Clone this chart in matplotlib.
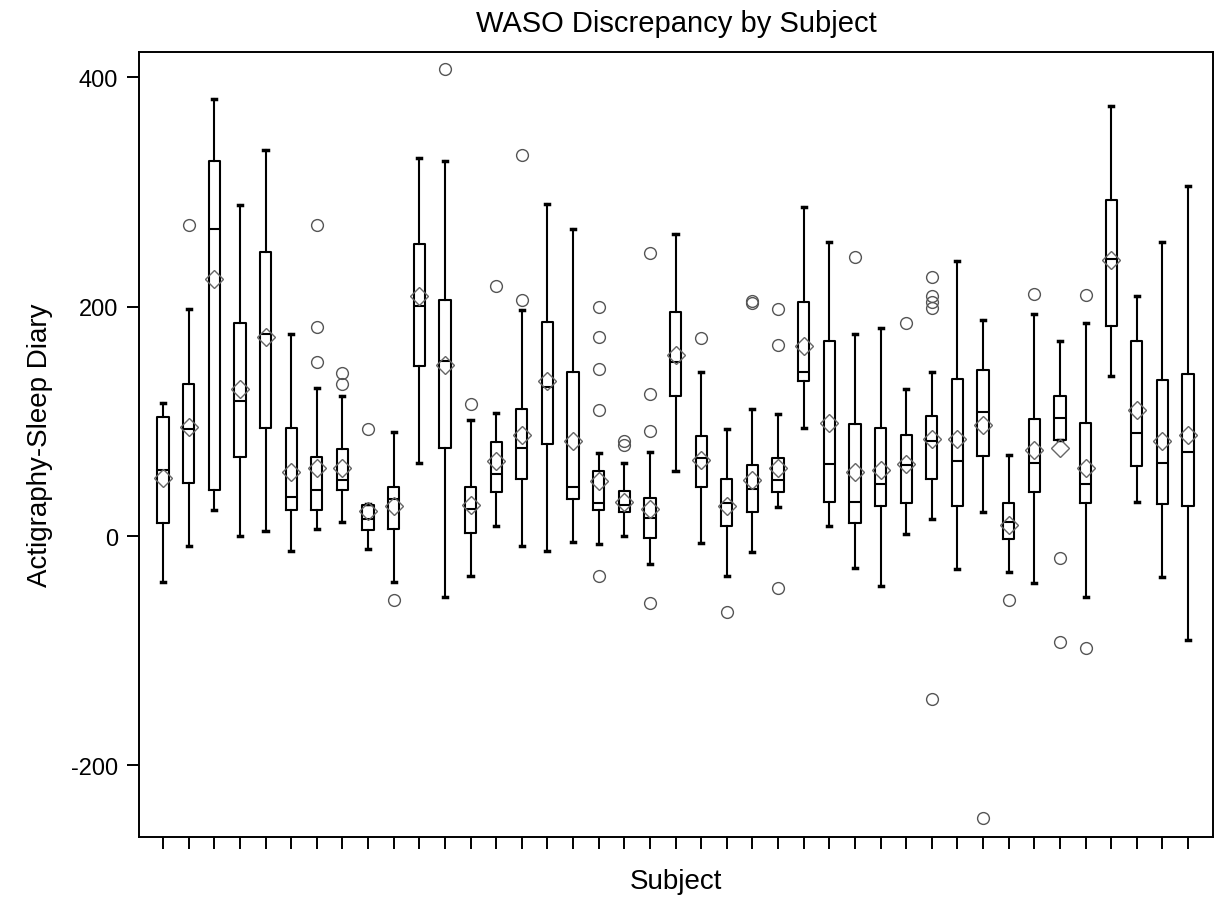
import matplotlib
matplotlib.use("Agg")
import matplotlib.pyplot as plt

plt.rcParams['font.family'] = ['Liberation Sans', 'DejaVu Sans']
plt.rcParams['axes.unicode_minus'] = False

# Box statistics per subject
whislo = [-40, -9, 23, 0, 4, -13, 6, 12, -11, -40, 64, -53, -35, 9, -9, -13, -5, -7, 0, -24,
          57, -6, -35, -14, 25, 94, 9, -28, -44, 2, 15, -29, 21, -31, -41, 84, -53, 140, 30, -36, -91]
q1 = [11, 46, 40, 69, 94, 23, 23, 40, 5, 6, 148, 77, 3, 38, 50, 80, 32, 23, 21, -2,
      122, 43, 9, 21, 38, 135, 30, 11, 26, 29, 50, 26, 70, -3, 38, 84, 29, 183, 61, 28, 26]
med = [58, 93, 268, 118, 176, 34, 40, 49, 15, 32, 201, 153, 24, 54, 77, 130, 43, 29, 27, 16,
       152, 68, 29, 41, 49, 143, 63, 30, 45, 62, 83, 65, 108, 12, 64, 103, 45, 242, 90, 64, 73]
q3 = [104, 133, 327, 186, 248, 94, 69, 76, 27, 43, 255, 206, 43, 82, 111, 187, 143, 57, 39, 33,
      195, 87, 50, 62, 68, 204, 170, 98, 94, 88, 105, 137, 145, 29, 102, 122, 99, 293, 170, 136, 141]
whishi = [116, 198, 381, 289, 337, 176, 129, 122, 28, 91, 330, 327, 101, 107, 197, 290, 268, 72, 64, 73,
          263, 143, 93, 111, 106, 287, 256, 176, 181, 128, 143, 240, 188, 71, 194, 170, 186, 375, 209, 256, 305]
means = [51, 95, 224, 128, 174, 56, 59, 59, 22, 26, 209, 149, 27, 65, 88, 135, 83, 48, 30, 24,
         158, 66, 26, 49, 59, 166, 99, 56, 58, 63, 85, 85, 97, 10, 75, 77, 59, 241, 110, 83, 88]
outliers = [
    [], [271], [], [], [], [], [152, 182, 271], [133, 142], [93], [-56],
    [], [407], [115], [218], [206, 332], [], [], [-35, 110, 146, 174, 200], [79, 83], [-58, 92, 124, 247],
    [], [173], [-66], [203, 205], [-45, 167, 198], [], [], [243], [], [186],
    [-142, 199, 204, 209, 226], [], [-246], [-56], [211], [-92, -19], [-98, 210], [], [], [], [],
]

stats = []
for i in range(len(med)):
    stats.append(dict(whislo=whislo[i], q1=q1[i], med=med[i], q3=q3[i], whishi=whishi[i],
                      mean=means[i], fliers=outliers[i], label=""))

fig = plt.figure(figsize=(12.19, 9.04), dpi=100)
ax = fig.add_axes([0.1143, 0.073, 0.8805, 0.8687])

line = dict(color="black", linewidth=1.5)
ax.bxp(stats, positions=range(len(stats)), widths=0.44, capwidths=0.16, showmeans=True,
       boxprops=line, medianprops=line, whiskerprops=line,
       capprops=dict(color="black", linewidth=2.5),
       flierprops=dict(marker="o", markerfacecolor="none", markeredgecolor="#555555",
                       markersize=8.5, markeredgewidth=1),
       meanprops=dict(marker="D", markerfacecolor="none", markeredgecolor="#666666",
                      markersize=9, markeredgewidth=1))

ax.set_xlim(-0.925, 40.96)
ax.set_ylim(-262.5, 422.4)
ax.set_yticks([-200, 0, 200, 400])
ax.set_xticks(range(len(stats)))
ax.set_xticklabels([])
ax.tick_params(axis="x", length=8.6, width=1.4)
ax.tick_params(axis="y", length=8.6, width=1.4, labelsize=17, pad=6.5)
for s in ax.spines.values():
    s.set_linewidth(1.4)

ax.set_xlabel("Subject", fontsize=20, labelpad=10)
ax.set_ylabel("Actigraphy-Sleep Diary", fontsize=20, labelpad=13)
ax.set_title("WASO Discrepancy by Subject", fontsize=21, pad=15)

fig.savefig("out.png", dpi=100)
